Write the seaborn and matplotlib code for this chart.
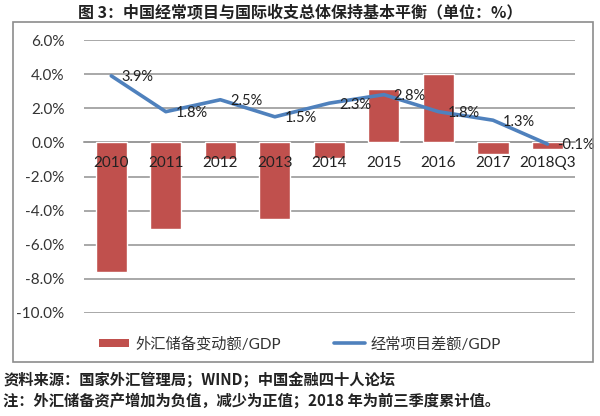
import numpy as np
import pandas as pd
import seaborn as sns
import matplotlib.pyplot as plt
import matplotlib.transforms as mtransforms
from matplotlib.patches import Rectangle, Patch
from matplotlib.lines import Line2D

# data
categories = ["2010", "2011", "2012", "2013", "2014", "2015", "2016", "2017", "2018Q3"]
reserve_change = [-7.6, -5.1, -1.0, -4.5, -0.9, 3.1, 4.0, -0.7, -0.4]
current_account = [3.9, 1.8, 2.5, 1.5, 2.3, 2.8, 1.8, 1.3, -0.1]
yticks = [-10, -8, -6, -4, -2, 0, 2, 4, 6]

title = "图 3：中国经常项目与国际收支总体保持基本平衡（单位：%）"
bar_name = "外汇储备变动额/GDP"
line_name = "经常项目差额/GDP"
note1 = "资料来源：国家外汇管理局；WIND；中国金融四十人论坛"
note2 = "注：外汇储备资产增加为负值，减少为正值；2018 年为前三季度累计值。"

bar_color = "#C0504D"
line_color = "#4F81BD"

sns.set_style("white")
# Lato for the Latin/number parts (close to Calibri), CJK falls back
plt.rcParams['font.family'] = ['Lato', 'Noto Sans CJK SC', 'DejaVu Sans']
cjk = ['Noto Sans CJK SC', 'DejaVu Sans']

fig = plt.figure(figsize=(6, 4.16), dpi=100)
ax = fig.add_axes([0.14, 0.2476, 0.818, 0.6562])

df = pd.DataFrame({"cat": categories, "bar": reserve_change, "line": current_account})
df["pos"] = np.arange(len(categories))

sns.barplot(data=df, x="cat", y="bar", color=bar_color, saturation=1, width=0.57,
            zorder=2, ax=ax)
sns.lineplot(data=df, x="pos", y="line", color=line_color, linewidth=2.6, zorder=3, ax=ax)

# value labels to the right of each point
for i, v in enumerate(current_account):
    ax.annotate(f"{v:.1f}%", (i, v), xytext=(7, -1), textcoords="offset points",
                ha="left", va="center", fontsize=10.5, color="#222222", zorder=5)

# category labels sit just under the zero line, drawn over the bars
offset = mtransforms.offset_copy(ax.transData, fig=fig, x=0, y=-15, units="points")
for i, c in enumerate(categories):
    ax.text(i, 0, c, transform=offset, ha="center", va="center", fontsize=11,
            color="#222222", zorder=5)

ax.set_ylim(-10, 6)
ax.set_xlim(-0.5, len(categories) - 0.5)
ax.set_xticks([])
ax.set_yticks(yticks)
ax.set_yticklabels([f"{t:.1f}%" for t in yticks], fontsize=11, color="#333333")
ax.yaxis.grid(True, color="#9a9a9a", linewidth=1.2)
ax.set_axisbelow(True)
for s in ["top", "right", "left"]:
    ax.spines[s].set_visible(False)
ax.spines["bottom"].set_position(("data", 0))
ax.spines["bottom"].set_color("#9a9a9a")
ax.spines["bottom"].set_linewidth(1.2)
ax.spines["bottom"].set_zorder(0.6)
ax.tick_params(axis="y", length=0, pad=14)
ax.set_xlabel("")
ax.set_ylabel("")

# outer frame
fig.patches.append(Rectangle((13 / 600, 1 - 362 / 416), 580 / 600, 340 / 416,
                             transform=fig.transFigure, fill=False,
                             edgecolor="#8c8c8c", linewidth=1.2))

handles = [Patch(facecolor=bar_color, edgecolor="none"),
           Line2D([], [], color=line_color, linewidth=2.6)]
fig.legend(handles, [bar_name, line_name], loc="center",
           bbox_to_anchor=(0.5, 1 - 344 / 416), ncol=2, frameon=False,
           fontsize=11, handlelength=2.0, handleheight=0.5, columnspacing=3.5,
           handletextpad=0.4, labelcolor="#333333")

fig.text(0.5, 1 - 12 / 416, title, ha="center", va="center", fontsize=11.5,
         fontweight="bold", color="#222222", family=cjk)
fig.text(0.005, 1 - 380 / 416, note1, ha="left", va="center", fontsize=11,
         fontweight="bold", color="#222222", family=cjk)
fig.text(0.005, 1 - 401 / 416, note2, ha="left", va="center", fontsize=11,
         fontweight="bold", color="#222222", family=cjk)

fig.savefig("out.png", dpi=100)
